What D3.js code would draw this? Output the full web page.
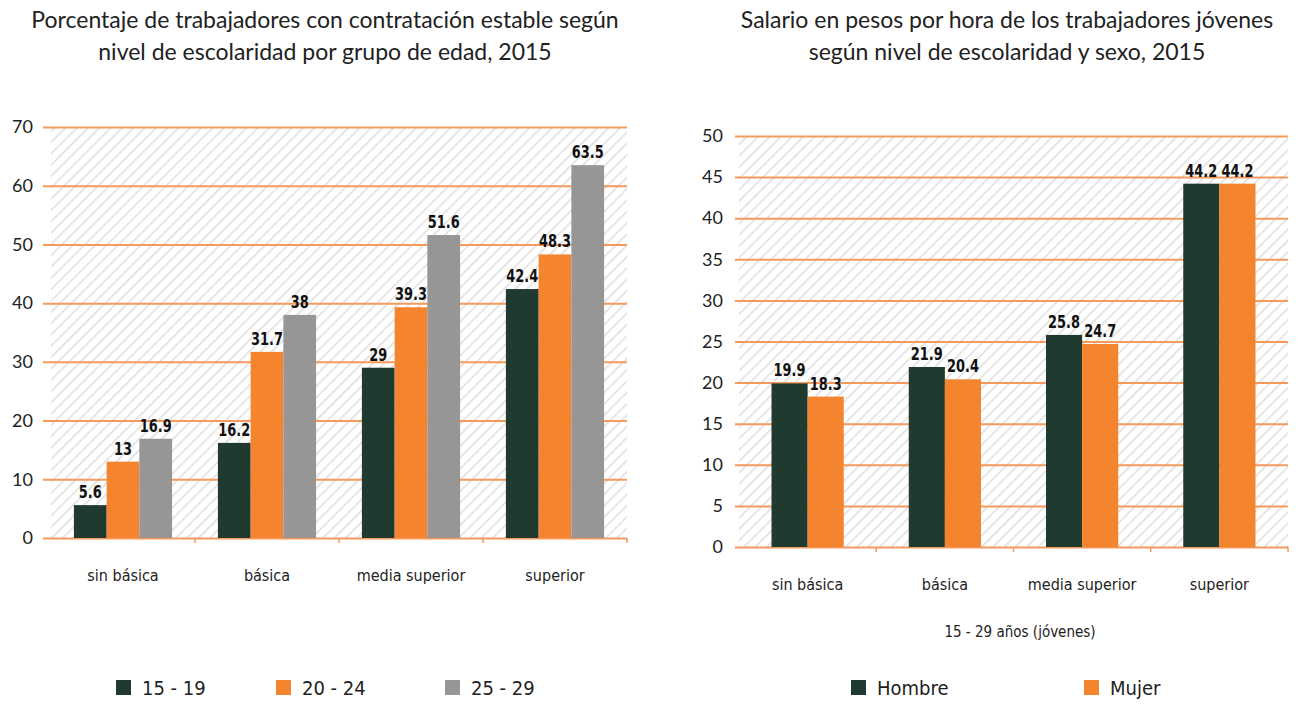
<!DOCTYPE html>
<html>
<head>
<meta charset="utf-8">
<script src="https://cdn.jsdelivr.net/npm/d3@7"></script>
<style>
  body { margin: 0; background: #fff; }
  svg { display: block; }
  .titulo { font-family: Lato, "Open Sans", sans-serif; font-size: 23px; fill: #222; }
  .eje text { font-family: Lato, sans-serif; font-size: 18px; fill: #222; }
  .cat { font-family: "DejaVu Sans Condensed", "DejaVu Sans", sans-serif; font-stretch: condensed; font-size: 16px; fill: #222; }
  .valor { font-family: "DejaVu Sans Condensed", "DejaVu Sans", sans-serif; font-stretch: condensed; font-size: 18px; font-weight: bold; fill: #111; }
  .leyenda { font-family: "DejaVu Sans Condensed", "DejaVu Sans", sans-serif; font-stretch: condensed; font-size: 20px; fill: #222; }
</style>
</head>
<body>
<script>
var w = 1301;
var h = 704;

/*
    Data.
*/
var categorias = ["sin básica", "básica", "media superior", "superior"];

var grupos = ["15 - 19", "20 - 24", "25 - 29"];
var edad15a19 = [5.6, 16.2, 29, 42.4];
var edad20a24 = [13, 31.7, 39.3, 48.3];
var edad25a29 = [16.9, 38, 51.6, 63.5];
var ticksIzq = [0, 10, 20, 30, 40, 50, 60, 70];

var sexos = ["Hombre", "Mujer"];
var hombre = [19.9, 21.9, 25.8, 44.2];
var mujer = [18.3, 20.4, 24.7, 44.2];
var ticksDer = [0, 5, 10, 15, 20, 25, 30, 35, 40, 45, 50];

var verde = "#213a2f";
var naranja = "#f5842f";
var gris = "#989694";
var rejilla = "#f39a5c";

var svg = d3.select("body")
    .append("svg")
    .attr("width", w)
    .attr("height", h);

/*
    Hatched background pattern.
*/
var pat = svg.append("defs").append("pattern")
    .attr("id", "rayas")
    .attr("patternUnits", "userSpaceOnUse")
    .attr("width", 8)
    .attr("height", 8)
    .attr("patternTransform", "rotate(45)");
pat.append("line")
    .attr("x1", 0).attr("y1", 0)
    .attr("x2", 0).attr("y2", 8)
    .attr("stroke", "#dedede")
    .attr("stroke-width", 3);

/*
    Draws one grouped bar chart.
*/
function graficar(cfg) {
    var g = svg.append("g");

    var x = d3.scaleBand()
        .domain(categorias)
        .range([cfg.x0, cfg.x1]);

    var xs = d3.scaleBand()
        .domain(cfg.series)
        .range([0, x.bandwidth()])
        .paddingOuter(cfg.outer);

    var y = d3.scaleLinear()
        .domain([0, cfg.max])
        .range([cfg.y0, cfg.y1]);

    // hatched area
    g.append("rect")
        .attr("x", cfg.x0)
        .attr("y", y(cfg.max))
        .attr("width", cfg.x1 - cfg.x0)
        .attr("height", y(0) - y(cfg.max))
        .attr("fill", "url(#rayas)");

    // gridlines and labels
    var yAxis = d3.axisLeft(y)
        .tickValues(cfg.ticks)
        .tickSize(-(cfg.x1 - cfg.x0 + cfg.gridExtra))
        .tickPadding(cfg.labelPad);

    var ga = g.append("g")
        .attr("class", "eje")
        .attr("transform", "translate(" + (cfg.x0 - cfg.gridExtra) + ",0)")
        .call(yAxis);
    ga.select(".domain").remove();
    ga.selectAll(".tick line")
        .attr("stroke", rejilla)
        .attr("stroke-width", 2);

    // small ticks on the baseline
    g.selectAll(".marca")
        .data(categorias)
        .enter()
        .append("line")
        .attr("x1", function(d){ return x(d) + x.bandwidth(); })
        .attr("x2", function(d){ return x(d) + x.bandwidth(); })
        .attr("y1", y(0))
        .attr("y2", y(0) + 5)
        .attr("stroke", rejilla)
        .attr("stroke-width", 1.5);

    // bars
    var filas = [];
    categorias.forEach(function(c, i){
        cfg.series.forEach(function(s, j){
            filas.push({cat: c, serie: s, valor: cfg.valores[j][i], color: cfg.colores[j]});
        });
    });

    g.selectAll(".barra")
        .data(filas)
        .enter()
        .append("rect")
        .attr("x", function(d){ return x(d.cat) + xs(d.serie); })
        .attr("y", function(d){ return y(d.valor); })
        .attr("width", xs.bandwidth())
        .attr("height", function(d){ return y(0) - y(d.valor); })
        .attr("fill", function(d){ return d.color; });

    // value labels, squeezed to look like a narrow bold face
    g.selectAll(".valor")
        .data(filas)
        .enter()
        .append("text")
        .attr("class", "valor")
        .attr("text-anchor", "middle")
        .attr("transform", function(d){
            var cx = x(d.cat) + xs(d.serie) + xs.bandwidth() / 2;
            return "translate(" + cx + "," + (y(d.valor) - 7) + ") scale(0.8,1)";
        })
        .text(function(d){ return d.valor; });

    // category labels
    g.selectAll(".cat")
        .data(categorias)
        .enter()
        .append("text")
        .attr("class", "cat")
        .attr("text-anchor", "middle")
        .attr("x", function(d){ return x(d) + x.bandwidth() / 2; })
        .attr("y", y(0) + 43)
        .text(function(d){ return d; });

    // title
    g.append("text")
        .attr("class", "titulo")
        .attr("text-anchor", "middle")
        .selectAll("tspan")
        .data(cfg.titulo)
        .enter()
        .append("tspan")
        .attr("x", cfg.tx)
        .attr("y", function(d, i){ return 28 + i * 32; })
        .text(function(d){ return d; });

    // legend
    var ley = g.selectAll(".ley")
        .data(cfg.series)
        .enter()
        .append("g")
        .attr("transform", function(d, i){ return "translate(" + cfg.leyX[i] + "," + cfg.leyY + ")"; });
    ley.append("rect")
        .attr("x", 0)
        .attr("y", -8)
        .attr("width", 15)
        .attr("height", 15)
        .attr("fill", function(d, i){ return cfg.colores[i]; });
    ley.append("text")
        .attr("class", "leyenda")
        .attr("x", 26)
        .attr("y", 7)
        .text(function(d){ return d; });

    return {x: x, y: y, g: g};
}

graficar({
    x0: 51, x1: 627, y0: 538, y1: 127, max: 70,
    ticks: ticksIzq, gridExtra: 8, labelPad: 10, outer: 0.7,
    series: grupos,
    valores: [edad15a19, edad20a24, edad25a29],
    colores: [verde, naranja, gris],
    titulo: ["Porcentaje de trabajadores con contratación estable según",
             "nivel de escolaridad por grupo de edad, 2015"],
    tx: 325,
    leyX: [116, 276, 445], leyY: 688
});

var der = graficar({
    x0: 739, x1: 1288, y0: 547, y1: 136, max: 50,
    ticks: ticksDer, gridExtra: 4, labelPad: 12, outer: 0.9,
    series: sexos,
    valores: [hombre, mujer],
    colores: [verde, naranja],
    titulo: ["Salario en pesos por hora de los trabajadores jóvenes",
             "según nivel de escolaridad y sexo, 2015"],
    tx: 1007,
    leyX: [851, 1084], leyY: 688
});

der.g.append("text")
    .attr("class", "cat")
    .attr("text-anchor", "middle")
    .attr("x", 1020)
    .attr("y", 637)
    .style("font-size", "15px")
    .text("15 - 29 años (jóvenes)");
</script>
</body>
</html>
